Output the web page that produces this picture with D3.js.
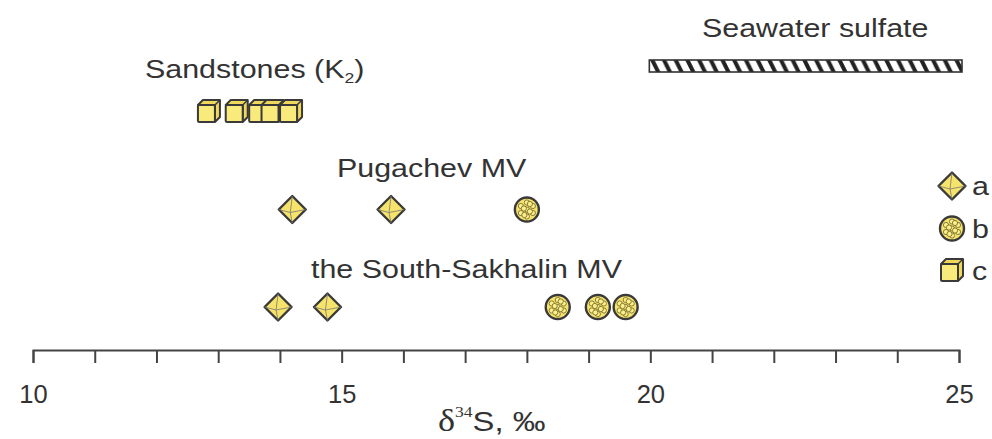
<!DOCTYPE html>
<html>
<head>
<meta charset="utf-8">
<script src="https://cdn.jsdelivr.net/npm/d3@7"></script>
<style>
  body { margin: 0; background: #fff; }
  text { font-family: Arial, "Liberation Sans", sans-serif; fill: #333; }
</style>
</head>
<body>
<script>
// d34S of pyrite types per group

const groups = ["Sandstones", "Pugachev", "SouthSakhalin"];
const groupLabels = ["Sandstones (K", "Pugachev MV", "the South-Sakhalin MV"];

// a = euhedral, b = framboid, c = cubic
const sandstonesValues = [12.85, 13.3, 13.68, 13.88, 14.18];
const pugachevA = [14.2, 15.8];
const pugachevB = [18.0];
const sakhalinA = [13.97, 14.77];
const sakhalinB = [18.5, 19.15, 19.6];

const seawaterRange = [20, 25];
const xTicksMajor = [10, 15, 20, 25];
const legendTypes = ["a", "b", "c"];

const points = [
    ...sandstonesValues.map(v => ({g: "Sandstones", t: "c", v})),
    ...pugachevA.map(v => ({g: "Pugachev", t: "a", v})),
    ...pugachevB.map(v => ({g: "Pugachev", t: "b", v})),
    ...sakhalinA.map(v => ({g: "SouthSakhalin", t: "a", v})),
    ...sakhalinB.map(v => ({g: "SouthSakhalin", t: "b", v}))
];

const width = 992;
const height = 439;

const svg = d3.select("body")
    .append("svg")
    .attr("width", width)
    .attr("height", height);

const xScale = d3.scaleLinear()
    .domain([10, 25])
    .range([33, 959]);

const yScale = d3.scalePoint()
    .domain(groups)
    .range([112, 307]);

const yellow = "#f6e36c";
const dark = "#3a3a3a";
const stretch = 1.17; // labels in the figure are a bit wide

// put a horizontally stretched label
function label(x, y, size) {
    return svg.append("text")
        .attr("transform", `translate(${x},${y}) scale(${stretch},1)`)
        .attr("font-size", size);
}

// hatch for seawater bar
const defs = svg.append("defs");
const pat = defs.append("pattern")
    .attr("id", "hatch")
    .attr("patternUnits", "userSpaceOnUse")
    .attr("x", 650)
    .attr("y", 60)
    .attr("width", 11.7)
    .attr("height", 12);
pat.append("rect").attr("width", 11.7).attr("height", 12).attr("fill", "#fff");
[-11.7, 0, 11.7].forEach(o => {
    pat.append("polygon")
        .attr("points", `${o},0 ${o + 4.5},0 ${o + 10.5},12 ${o + 6},12`)
        .attr("fill", "#222");
});

svg.append("rect")
    .attr("x", xScale(seawaterRange[0]) - 1)
    .attr("y", 60)
    .attr("width", xScale(seawaterRange[1]) - xScale(seawaterRange[0]) + 4)
    .attr("height", 12)
    .attr("fill", "url(#hatch)")
    .attr("stroke", "#333")
    .attr("stroke-width", 1.6);

label(702, 37, 26).text("Seawater sulfate");

// group labels
const labelPos = {
    Sandstones: [145, 78],
    Pugachev: [337, 177],
    SouthSakhalin: [311, 278]
};
groups.forEach((g, i) => {
    const t = label(labelPos[g][0], labelPos[g][1], 26).text(groupLabels[i]);
    if (g === "Sandstones") {
        t.append("tspan").attr("font-size", 15).attr("dy", 5).text("2");
        t.append("tspan").attr("dy", -5).text(")");
    }
});

// symbols
const framboidDots = [
    [0, -7], [-6, -3.5], [6, -3.5], [-6, 3.5], [6, 3.5], [0, 7],
    [0, 0], [-3, -1], [3, 2], [-2.5, 5.5], [3, -5.5]
];

function drawSymbol(g, type) {
    if (type === "a") {
        const r = 13.5;
        g.append("path")
            .attr("d", `M0,${-r}L${r},0L0,${r}L${-r},0Z`)
            .attr("fill", yellow)
            .attr("stroke", dark)
            .attr("stroke-width", 2.4)
            .attr("stroke-linejoin", "round");
        const p = [-2, 3];
        [[0, -r], [r, 0], [0, r], [-r, 0]].forEach(v => {
            g.append("line")
                .attr("x1", p[0]).attr("y1", p[1])
                .attr("x2", v[0]).attr("y2", v[1])
                .attr("stroke", "#777")
                .attr("stroke-width", 0.8);
        });
    } else if (type === "b") {
        g.append("circle")
            .attr("r", 12)
            .attr("fill", yellow)
            .attr("stroke", dark)
            .attr("stroke-width", 2.4);
        framboidDots.forEach(d => {
            g.append("circle")
                .attr("cx", d[0]).attr("cy", d[1])
                .attr("r", 2.6)
                .attr("fill", "#fbef8a")
                .attr("stroke", "#7d7030")
                .attr("stroke-width", 0.9);
        });
    } else {
        const s = 17, o = 5;
        const x0 = -11, y0 = -7;
        g.append("path")
            .attr("d", `M${x0},${y0}L${x0 + o},${y0 - o}L${x0 + s + o},${y0 - o}L${x0 + s + o},${y0 + s - o}L${x0 + s},${y0 + s}L${x0 + s},${y0}Z`)
            .attr("fill", "#f0d95a")
            .attr("stroke", dark)
            .attr("stroke-width", 2)
            .attr("stroke-linejoin", "round");
        g.append("line")
            .attr("x1", x0 + s).attr("y1", y0)
            .attr("x2", x0 + s + o).attr("y2", y0 - o)
            .attr("stroke", dark).attr("stroke-width", 1.5);
        g.append("rect")
            .attr("x", x0).attr("y", y0)
            .attr("width", s).attr("height", s)
            .attr("rx", 1.5)
            .attr("fill", "#f9ea7c")
            .attr("stroke", dark)
            .attr("stroke-width", 2);
    }
}

points.forEach(d => {
    const g = svg.append("g")
        .attr("transform", `translate(${xScale(d.v)},${yScale(d.g)})`);
    drawSymbol(g, d.t);
});

// legend
const legendY = d3.scalePoint().domain(legendTypes).range([186, 271]);
legendTypes.forEach(t => {
    const g = svg.append("g")
        .attr("transform", `translate(952,${legendY(t)})`);
    drawSymbol(g, t);
    label(972, legendY(t) + 9, 26).text(t);
});

// x axis
const xAxis = d3.axisBottom(xScale)
    .tickValues(d3.range(10, 26, 1))
    .tickSize(13)
    .tickPadding(22)
    .tickFormat(d => xTicksMajor.includes(d) ? d : "");

const ax = svg.append("g")
    .attr("transform", "translate(0,350)")
    .call(xAxis);
ax.select(".domain").attr("stroke", "#444").attr("stroke-width", 2);
ax.selectAll(".tick line").attr("stroke", "#444").attr("stroke-width", 2);
ax.selectAll(".tick text")
    .attr("font-size", 25.5)
    .attr("font-family", "Arial, 'Liberation Sans', sans-serif")
    .attr("fill", "#333");

// axis title
const title = label(438, 431, 28);
title.append("tspan")
    .attr("font-family", "'Times New Roman', 'Liberation Serif', serif")
    .attr("font-size", 31)
    .text("δ");
title.append("tspan")
    .attr("font-family", "'Times New Roman', 'Liberation Serif', serif")
    .attr("font-size", 15)
    .attr("dy", -14)
    .text("34");
title.append("tspan")
    .attr("dy", 14)
    .text("S, ‰");
</script>
</body>
</html>
